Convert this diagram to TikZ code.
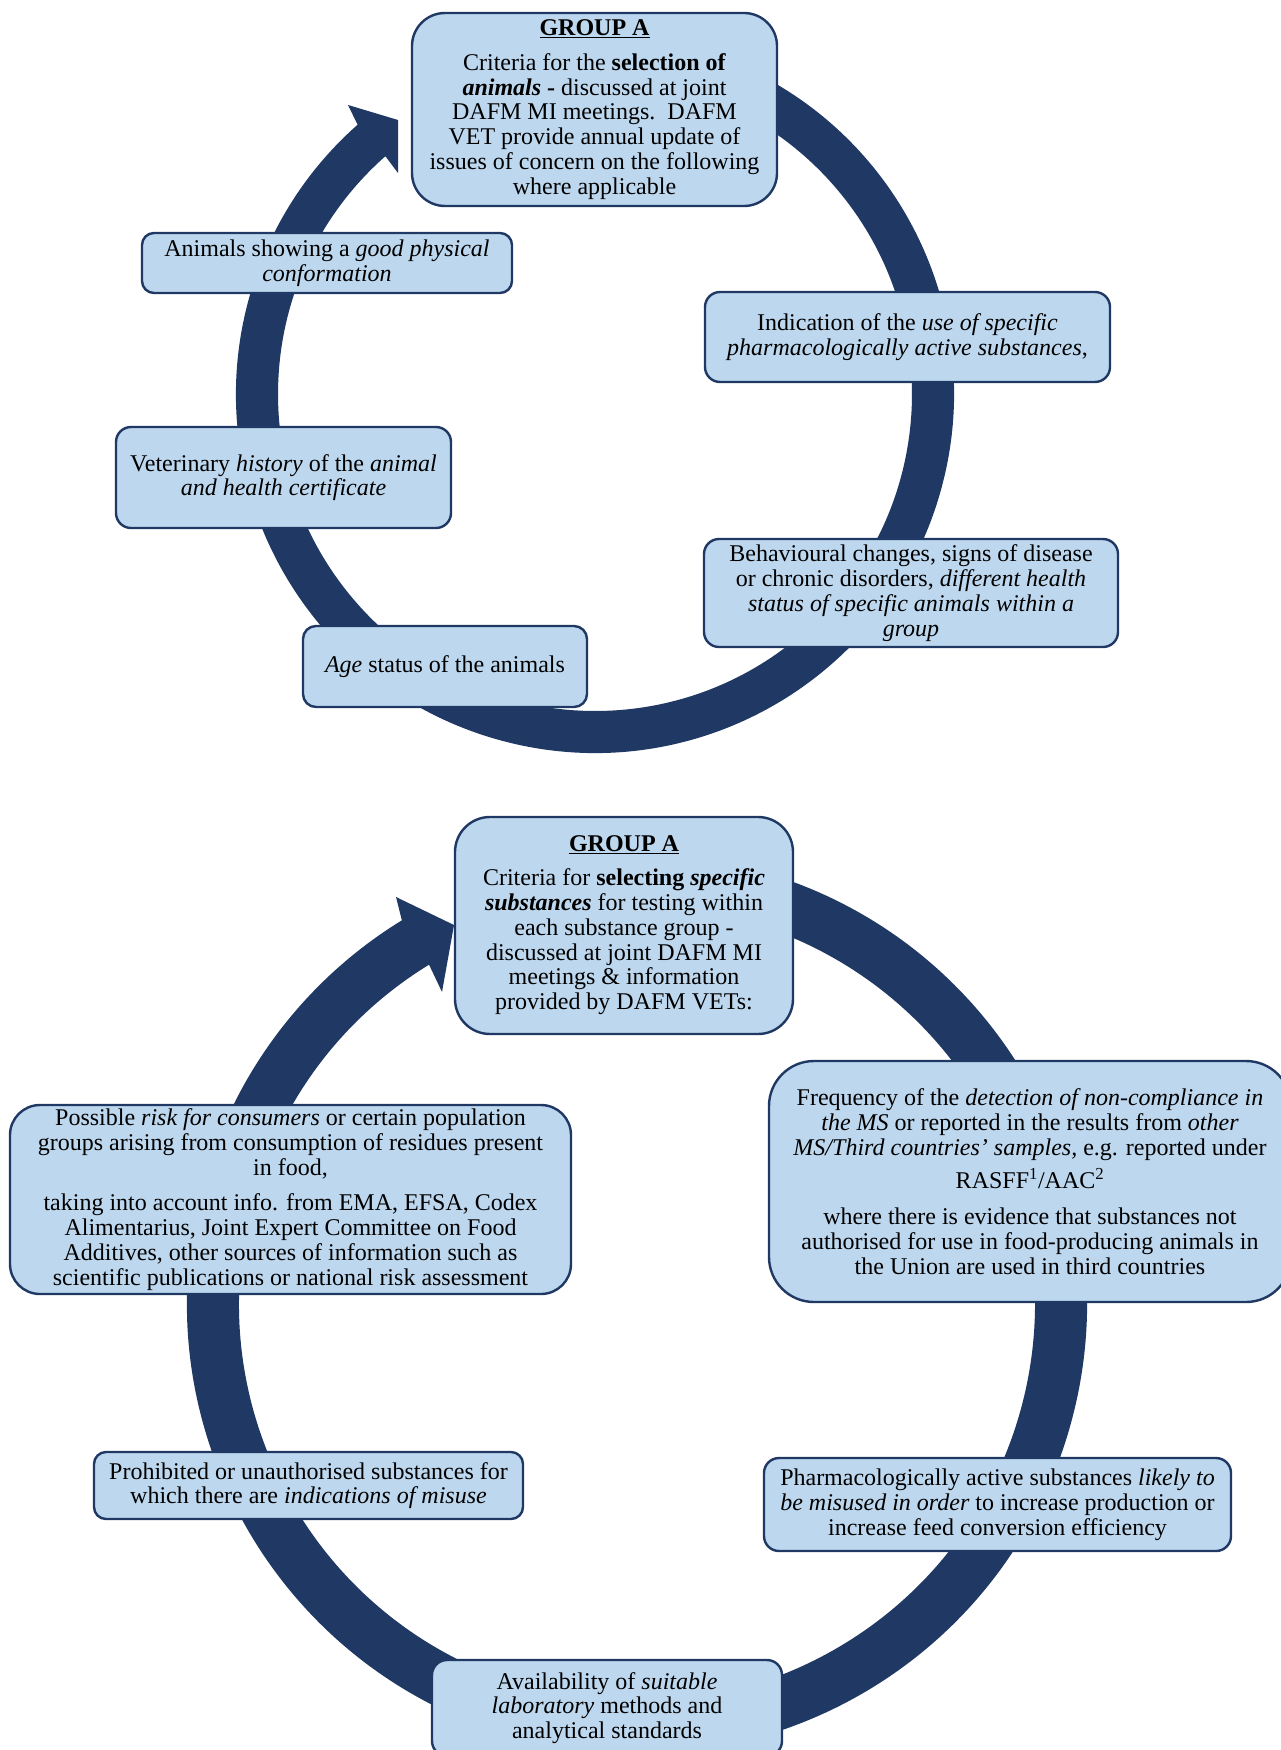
\documentclass[tikz,border=0pt]{standalone}
\usepackage{fontspec}
\setmainfont{Liberation Serif}
\definecolor{ringcol}{HTML}{1F3864}
\definecolor{boxfill}{HTML}{BDD7EE}
\definecolor{boxline}{HTML}{203864}
\tikzset{
  box/.style={draw=boxline, fill=boxfill, line width=2.4pt, align=center,
    inner sep=0pt, font=\fontsize{24}{24.8}\selectfont},
  ringband/.style={fill=ringcol}
}
\begin{document}
\begin{tikzpicture}[x=1pt,y=-1pt]
\useasboundingbox (0,0) rectangle (1281,1750);
\clip (0,0) rectangle (1281,1750);
\fill[white] (0,0) rectangle (1281,1750);

% ---------- top cycle ----------
\fill[ringband] ([shift={(595,394)}]-75:359) arc[start angle=-75,end angle=228.6,radius=359]
  -- (348,105) -- (398,120) -- (398,173)
  -- ([shift={(595,394)}]228.6:317) arc[start angle=228.6,end angle=-75,radius=317] -- cycle;

\node[box, minimum width=365, minimum height=193, rounded corners=33] (ga1) at (594.5,109.5)
 {\textbf{\underline{GROUP A}}\\[10pt]
  Criteria for the \textbf{selection of}\\
  \textbf{\textit{animals} -} discussed at joint\\
  DAFM MI meetings.\ \ DAFM\\
  VET provide annual update of\\
  issues of concern on the following\\
  where applicable};

\node[box, minimum width=370, minimum height=60, rounded corners=12] (conf) at (327,263)
 {Animals showing a \textit{good physical}\\ \textit{conformation}};

\node[box, minimum width=405, minimum height=90, rounded corners=15] (pharm1) at (907.5,337)
 {Indication of the \textit{use of specific}\\ \textit{pharmacologically active substances},};

\node[box, minimum width=335, minimum height=101, rounded corners=15] (vet) at (283.5,477.5)
 {Veterinary \textit{history} of the \textit{animal}\\ \textit{and health certificate}};

\node[box, minimum width=414, minimum height=108, rounded corners=15] (behav) at (911,593)
 {Behavioural changes, signs of disease\\
  or chronic disorders, \textit{different health}\\
  \textit{status of specific animals within a}\\
  \textit{group}};

\node[box, minimum width=284, minimum height=81, rounded corners=13] (age) at (445,666.5)
 {\textit{Age} status of the animals};

% ---------- bottom cycle ----------
\fill[ringband] ([shift={(637,1304)}]-75:450) arc[start angle=-75,end angle=238.5,radius=450]
  -- (396,897) -- (454,925) -- (442,992)
  -- ([shift={(637,1304)}]238.5:398) arc[start angle=238.5,end angle=-75,radius=398] -- cycle;

\node[box, minimum width=338, minimum height=217, rounded corners=35] (ga2) at (624,925.5)
 {\textbf{\underline{GROUP A}}\\[9pt]
  Criteria for \textbf{selecting \textit{specific}}\\
  \textbf{\textit{substances}} for testing within\\
  each substance group -\\
  discussed at joint DAFM MI\\
  meetings \& information\\
  provided by DAFM VETs:};

\node[box, minimum width=522, minimum height=241, rounded corners=45] (freq) at (1030,1181.5)
 {Frequency of the \textit{detection of non-compliance in}\\
  \textit{the MS} or reported in the results from \textit{other}\\
  \textit{MS/Third countries’ samples,} e.g. reported under\\[7pt]
  RASFF\textsuperscript{1}/AAC\textsuperscript{2}\\[11pt]
  where there is evidence that substances not\\
  authorised for use in food-producing animals in\\
  the Union are used in third countries};

\node[box, minimum width=561, minimum height=189, rounded corners=30] (risk) at (290.5,1199.5)
 {Possible \textit{risk for consumers} or certain population\\
  groups arising from consumption of residues present\\
  in food,\\[11pt]
  taking into account info. from EMA, EFSA, Codex\\
  Alimentarius, Joint Expert Committee on Food\\
  Additives, other sources of information such as\\
  scientific publications or national risk assessment};

\node[box, minimum width=429, minimum height=67, rounded corners=12] (prohib) at (308.5,1485.5)
 {Prohibited or unauthorised substances for\\ which there are \textit{indications of misuse}};

\node[box, minimum width=467, minimum height=93, rounded corners=15] (misuse) at (997.5,1504.5)
 {Pharmacologically active substances \textit{likely to}\\
  \textit{be misused in order} to increase production or\\
  increase feed conversion efficiency};

\node[box, minimum width=350, minimum height=96, rounded corners=15] (lab) at (607,1708)
 {Availability of \textit{suitable}\\ \textit{laboratory} methods and\\ analytical standards};
\end{tikzpicture}
\end{document}
